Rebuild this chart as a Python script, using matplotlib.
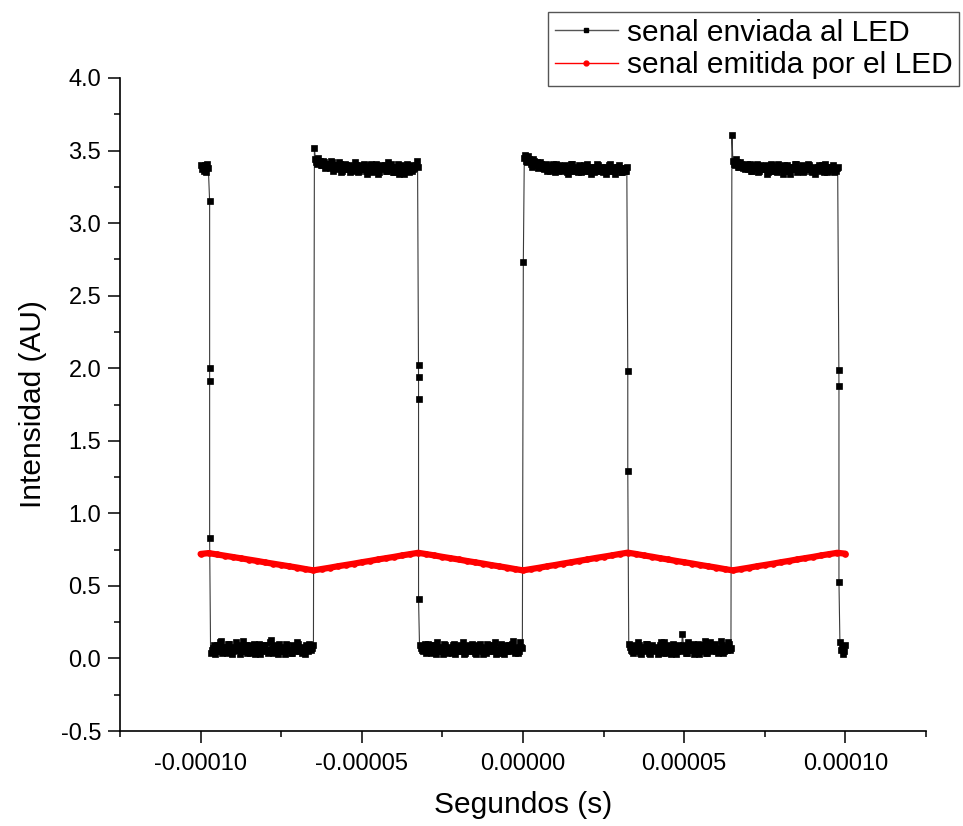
import numpy as np
import matplotlib
matplotlib.use("Agg")
import matplotlib.pyplot as plt
from matplotlib.lines import Line2D
from matplotlib.ticker import MultipleLocator, FormatStrFormatter

plt.rcParams['font.family'] = ['Liberation Sans', 'DejaVu Sans']

# ---------------- data (times in microseconds) ----------------
# plateau segments of the sent signal: (t_start, t_end)
plateau_times = [(-100.0, -97.6), (-96.9, -65.0), (-64.4, -32.7), (-32.1, -0.2),
                 (0.4, 32.2), (32.8, 64.5), (65.1, 97.6), (98.3, 100.0)]
# transition instants (edges) and the points sampled on each edge
edge_times = [-97.2, -64.7, -32.4, 0.1, 32.5, 64.8, 98.0]
edge_values = [[3.15, 2.00, 1.91, 0.83],
               [3.52],
               [2.02, 1.94, 1.79, 0.41],
               [2.73],
               [1.98, 1.29],
               [3.61],
               [1.99, 1.88, 0.53]]

H0 = [3.40, 3.37, 3.39, 3.36, 3.38, 3.40, 3.35, 3.41, 3.38]
L1 = [0.04, 0.07, 0.03, 0.09, 0.05, 0.12, 0.06, 0.08, 0.04, 0.10, 0.07, 0.05, 0.11,
      0.06, 0.03, 0.08, 0.05, 0.09, 0.07, 0.04, 0.06, 0.10, 0.05, 0.08, 0.03, 0.07,
      0.09, 0.05, 0.06, 0.13, 0.04, 0.08, 0.06, 0.10, 0.05, 0.07, 0.03, 0.09, 0.06,
      0.04, 0.08, 0.05, 0.10, 0.07, 0.04, 0.06, 0.09, 0.05, 0.08, 0.07]
L1b = [0.06, 0.09, 0.05, 0.07, 0.11, 0.04, 0.08, 0.06, 0.10, 0.05, 0.03, 0.08, 0.06,
       0.09, 0.05, 0.12, 0.07, 0.04, 0.09, 0.06, 0.08, 0.03, 0.07, 0.10, 0.05, 0.09,
       0.06, 0.04, 0.11, 0.07, 0.05, 0.09, 0.03, 0.07, 0.08, 0.05, 0.10, 0.06, 0.04,
       0.09, 0.07, 0.11, 0.05, 0.08, 0.06, 0.03, 0.07, 0.10, 0.06, 0.09]
H1 = [3.44, 3.41, 3.43, 3.40, 3.42, 3.39, 3.41, 3.38, 3.42, 3.40, 3.37, 3.39, 3.41,
      3.36, 3.38, 3.40, 3.37, 3.35, 3.39, 3.42, 3.38, 3.36, 3.40, 3.37, 3.39, 3.34,
      3.38, 3.41, 3.36, 3.39, 3.37, 3.35, 3.40, 3.38, 3.36, 3.42, 3.37, 3.39, 3.35,
      3.38, 3.41, 3.36, 3.38, 3.34, 3.39, 3.37, 3.40, 3.36, 3.38, 3.43]
H1b = [3.42, 3.45, 3.40, 3.43, 3.38, 3.41, 3.39, 3.43, 3.36, 3.40, 3.38, 3.42, 3.35,
       3.39, 3.41, 3.37, 3.40, 3.38, 3.36, 3.40, 3.35, 3.39, 3.37, 3.41, 3.36, 3.38,
       3.40, 3.35, 3.38, 3.41, 3.34, 3.39, 3.37, 3.40, 3.36, 3.38, 3.41, 3.35, 3.39,
       3.37, 3.34, 3.40, 3.36, 3.39, 3.41, 3.35, 3.38, 3.37, 3.40, 3.39]
L2 = [0.09, 0.06, 0.08, 0.04, 0.10, 0.07, 0.05, 0.09, 0.03, 0.06, 0.08, 0.05, 0.10,
      0.04, 0.07, 0.06, 0.09, 0.03, 0.08, 0.05, 0.07, 0.11, 0.04, 0.06, 0.09, 0.05,
      0.08, 0.03, 0.07, 0.10, 0.05, 0.06, 0.04, 0.09, 0.07, 0.05, 0.08, 0.03, 0.06,
      0.10, 0.04, 0.07, 0.05, 0.09, 0.06, 0.12, 0.04, 0.07, 0.05, 0.08]
L2b = [0.07, 0.05, 0.10, 0.06, 0.08, 0.04, 0.09, 0.06, 0.11, 0.05, 0.07, 0.03, 0.09,
       0.06, 0.08, 0.04, 0.10, 0.07, 0.05, 0.09, 0.06, 0.03, 0.08, 0.07, 0.05, 0.10,
       0.04, 0.09, 0.06, 0.08, 0.03, 0.07, 0.10, 0.05, 0.09, 0.06, 0.11, 0.04, 0.08,
       0.06, 0.03, 0.09, 0.07, 0.05, 0.10, 0.06, 0.08, 0.04, 0.11, 0.07]
H2 = [3.45, 3.43, 3.46, 3.41, 3.44, 3.40, 3.42, 3.39, 3.41, 3.38, 3.40, 3.36, 3.39,
      3.37, 3.41, 3.35, 3.38, 3.40, 3.36, 3.39, 3.37, 3.34, 3.38, 3.41, 3.36, 3.38,
      3.35, 3.39, 3.37, 3.40, 3.36, 3.38, 3.34, 3.39, 3.37, 3.41, 3.36, 3.38, 3.35,
      3.39, 3.37, 3.40, 3.36, 3.38, 3.34, 3.39, 3.37, 3.35, 3.38, 3.36]
H2b = [3.47, 3.42, 3.44, 3.39, 3.43, 3.41, 3.38, 3.42, 3.40, 3.37, 3.41, 3.38, 3.36,
       3.40, 3.38, 3.41, 3.36, 3.39, 3.37, 3.40, 3.35, 3.38, 3.41, 3.36, 3.39, 3.37,
       3.40, 3.35, 3.38, 3.36, 3.41, 3.37, 3.39, 3.35, 3.38, 3.40, 3.36, 3.39, 3.37,
       3.34, 3.38, 3.41, 3.36, 3.39, 3.37, 3.40, 3.35, 3.38, 3.36, 3.39]
L3 = [0.10, 0.06, 0.04, 0.08, 0.05, 0.09, 0.03, 0.07, 0.06, 0.10, 0.04, 0.08, 0.05,
      0.07, 0.03, 0.09, 0.06, 0.11, 0.04, 0.07, 0.05, 0.08, 0.06, 0.03, 0.09, 0.05,
      0.17, 0.07, 0.04, 0.08, 0.06, 0.10, 0.05, 0.07, 0.03, 0.09, 0.06, 0.12, 0.04,
      0.08, 0.05, 0.07, 0.10, 0.04, 0.06, 0.09, 0.05, 0.08, 0.11, 0.06]
L3b = [0.08, 0.05, 0.09, 0.06, 0.11, 0.04, 0.08, 0.05, 0.10, 0.07, 0.03, 0.09, 0.06,
       0.08, 0.05, 0.11, 0.04, 0.07, 0.09, 0.06, 0.03, 0.10, 0.07, 0.05, 0.08, 0.06,
       0.09, 0.04, 0.11, 0.06, 0.08, 0.03, 0.07, 0.10, 0.05, 0.09, 0.06, 0.04, 0.08,
       0.11, 0.06, 0.09, 0.05, 0.07, 0.12, 0.04, 0.08, 0.06, 0.10, 0.07]
H3 = [3.43, 3.40, 3.42, 3.39, 3.41, 3.38, 3.40, 3.37, 3.41, 3.36, 3.39, 3.38, 3.35,
      3.40, 3.37, 3.39, 3.34, 3.38, 3.41, 3.36, 3.38, 3.35, 3.39, 3.37, 3.40, 3.36,
      3.38, 3.34, 3.39, 3.37, 3.41, 3.36, 3.38, 3.35, 3.39, 3.37, 3.40, 3.36, 3.38,
      3.34, 3.39, 3.37, 3.40, 3.35, 3.38, 3.36, 3.39, 3.37, 3.35, 3.38]
H3b = [3.41, 3.44, 3.39, 3.42, 3.40, 3.37, 3.41, 3.39, 3.36, 3.40, 3.38, 3.41, 3.36,
       3.39, 3.37, 3.40, 3.35, 3.38, 3.40, 3.36, 3.39, 3.41, 3.37, 3.34, 3.38, 3.40,
       3.36, 3.39, 3.37, 3.41, 3.35, 3.38, 3.40, 3.36, 3.38, 3.41, 3.37, 3.35, 3.39,
       3.37, 3.40, 3.36, 3.38, 3.41, 3.35, 3.39, 3.37, 3.40, 3.36, 3.39]
L4 = [0.11, 0.06, 0.08, 0.03, 0.05, 0.09]
# each plateau: one or two interleaved sample lists
plateau_values = [[H0], [L1, L1b], [H1, H1b], [L2, L2b], [H2, H2b], [L3, L3b], [H3, H3b], [L4]]

# emitted signal, sampled every 2.5 us from -100 to 100 us
red_t0 = -100.0
red_dt = 2.5
red_values = [0.720, 0.726,
              0.717, 0.708, 0.699, 0.690, 0.681, 0.672, 0.662, 0.653, 0.644, 0.635, 0.626, 0.616, 0.607,
              0.616, 0.625, 0.635, 0.644, 0.653, 0.663, 0.672, 0.682, 0.691, 0.700, 0.710, 0.719, 0.728,
              0.719, 0.710, 0.700, 0.691, 0.682, 0.672, 0.663, 0.654, 0.644, 0.635, 0.626, 0.616, 0.607,
              0.616, 0.625, 0.635, 0.644, 0.654, 0.663, 0.673, 0.682, 0.692, 0.701, 0.710, 0.720, 0.729,
              0.720, 0.710, 0.701, 0.691, 0.682, 0.672, 0.663, 0.654, 0.644, 0.635, 0.626, 0.616, 0.607,
              0.616, 0.625, 0.635, 0.644, 0.653, 0.663, 0.672, 0.682, 0.691, 0.700, 0.710, 0.719, 0.728,
              0.722]

labels = ["senal enviada al LED", "senal emitida por el LED"]

# ---------------- assemble black series ----------------
bx, by = [], []
for i, (seg, lists) in enumerate(zip(plateau_times, plateau_values)):
    vals = np.ravel(np.column_stack(lists)) if len(lists) > 1 else np.array(lists[0])
    bx.extend(np.linspace(seg[0], seg[1], len(vals)))
    by.extend(vals)
    if i < len(edge_times):
        bx.extend([edge_times[i]] * len(edge_values[i]))
        by.extend(edge_values[i])
bx = np.array(bx) * 1e-6
by = np.array(by)

rx = (red_t0 + red_dt * np.arange(len(red_values))) * 1e-6
ry = np.array(red_values)

# ---------------- figure ----------------
fig = plt.figure(figsize=(9.63, 8.26), dpi=100)
ax = fig.add_axes([120/963, 95/826, 806/963, 653/826])

ax.plot(bx, by, color='#3a3a3a', lw=0.8, zorder=2)
ax.plot(bx, by, ls='none', marker='s', ms=3.7, mfc='black', mec='black', mew=0.5, zorder=3)
ax.plot(rx, ry, color='red', lw=4.5, solid_capstyle='round', zorder=4)
ax.plot(rx, ry, ls='none', marker='o', ms=3.8, color='red', zorder=4)

ax.set_xlim(-0.000125, 0.000125)
ax.set_ylim(-0.5, 4.0)

for s in ['top', 'right']:
    ax.spines[s].set_visible(False)
for s in ['left', 'bottom']:
    ax.spines[s].set_linewidth(1.2)

ax.xaxis.set_major_locator(MultipleLocator(0.00005))
ax.xaxis.set_minor_locator(MultipleLocator(0.000025))
ax.yaxis.set_major_locator(MultipleLocator(0.5))
ax.yaxis.set_minor_locator(MultipleLocator(0.25))
ax.xaxis.set_major_formatter(FormatStrFormatter('%.5f'))
ax.yaxis.set_major_formatter(FormatStrFormatter('%.1f'))

ax.tick_params(which='major', direction='out', length=8.5, width=1.1, labelsize=17, pad=5)
ax.tick_params(which='minor', direction='out', length=4.3, width=1.1)
ax.tick_params(axis='x', which='major', pad=7)

ax.set_xlabel('Segundos (s)', fontsize=21.5, labelpad=12)
ax.set_ylabel('Intensidad (AU)', fontsize=21.5, labelpad=10)

handles = [Line2D([], [], color='#555555', lw=1.0, marker='s', ms=3.5, mfc='black', mec='black'),
           Line2D([], [], color='red', lw=1.0, marker='o', ms=3.5, mfc='red', mec='red')]
leg = fig.legend(handles, labels, loc='upper right', bbox_to_anchor=(959/963, 1 - 12/826),
                 fontsize=21.5, frameon=True, fancybox=False, framealpha=1,
                 edgecolor='#555555', handlelength=2.1, handletextpad=0.3,
                 borderpad=0.22, labelspacing=0.15, borderaxespad=0.0)
leg.get_frame().set_linewidth(1.0)

fig.savefig('out.png', dpi=100)
